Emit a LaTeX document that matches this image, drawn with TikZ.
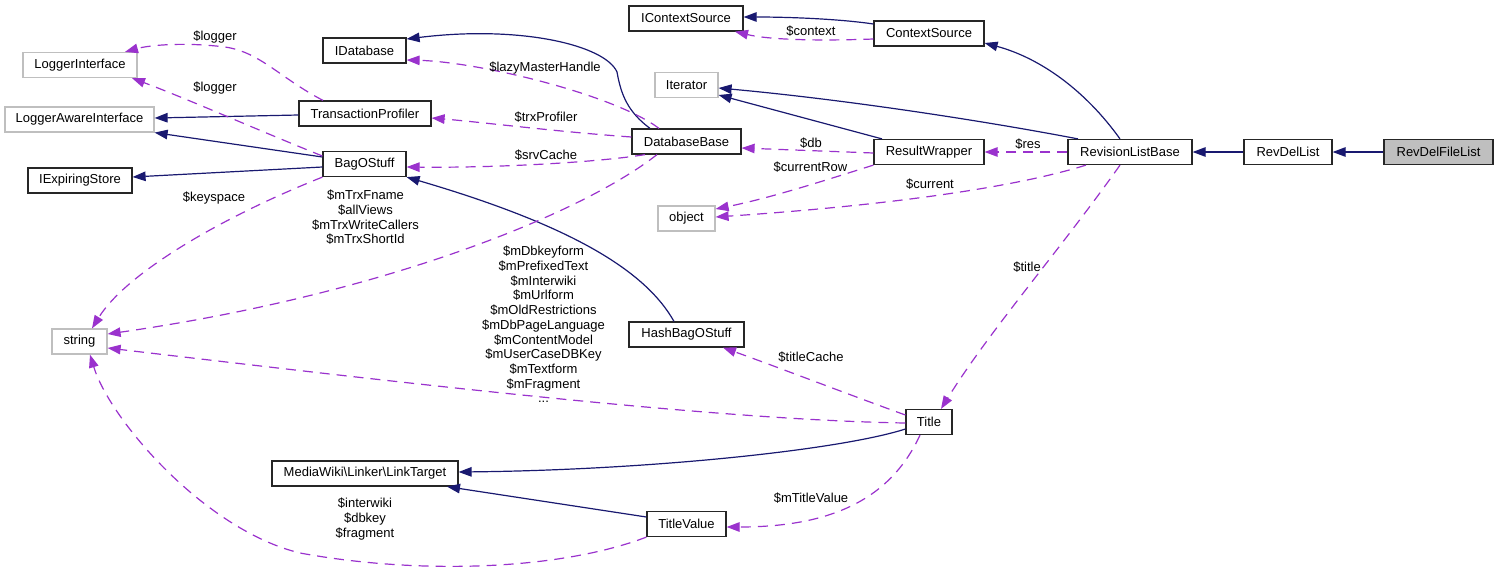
\documentclass[tikz,border=0pt]{standalone}
\usepackage{fontspec}
\setmainfont{Liberation Sans}
\usetikzlibrary{arrows.meta}
\definecolor{navyc}{HTML}{191970}
\definecolor{orch}{HTML}{9A32CD}
\definecolor{grayb}{HTML}{BFBFBF}
\begin{document}
\begin{tikzpicture}[x=1pt,y=-1pt,
  font=\fontsize{13}{14.7}\selectfont,
  cls/.style={draw=black!85, line width=1.2pt, fill=white, minimum height=25pt, inner sep=0pt, anchor=center},
  ext/.style={cls, draw=grayb},
  inh/.style={draw=navyc, line width=1.2pt, -{Triangle[length=13pt,width=9.5pt]}},
  mem/.style={draw=orch, line width=1.2pt, dash pattern=on 10pt off 7pt, -{Triangle[length=13pt,width=9.5pt]}},
  lbl/.style={inner sep=0pt, align=center}]
\useasboundingbox (0,0) rectangle (1496,576);

% nodes
\node[cls, minimum width=114pt] (ictx) at (686,18.5) {IContextSource};
\node[cls, minimum width=110pt] (ctx) at (929,33.5) {ContextSource};
\node[cls, minimum width=83pt] (idb) at (364.5,50.5) {IDatabase};
\node[ext, minimum width=114pt] (logi) at (80,65) {LoggerInterface};
\node[ext, minimum width=63pt] (iter) at (686.5,85) {Iterator};
\node[ext, minimum width=149pt] (lai) at (79.5,119.5) {LoggerAwareInterface};
\node[cls, minimum width=132pt] (trx) at (365,113.5) {TransactionProfiler};
\node[cls, minimum width=109pt] (dbb) at (686.5,141.5) {DatabaseBase};
\node[cls, minimum width=83pt] (bag) at (364.5,164) {BagOStuff};
\node[cls, minimum width=110pt] (rw) at (929,152) {ResultWrapper};
\node[cls, minimum width=124pt] (rlb) at (1130,152) {RevisionListBase};
\node[cls, minimum width=88pt] (rdl) at (1288,152) {RevDelList};
\node[cls, minimum width=109pt, fill=grayb] (rdfl) at (1438.5,152) {RevDelFileList};
\node[cls, minimum width=104pt] (iexp) at (80,180.5) {IExpiringStore};
\node[ext, minimum width=57pt] (obj) at (686.5,218.5) {object};
\node[ext, minimum width=55pt] (str) at (79.5,341.5) {string};
\node[cls, minimum width=115pt] (hbag) at (686.5,334.5) {HashBagOStuff};
\node[cls, minimum width=46pt] (title) at (929,422) {Title};
\node[cls, minimum width=186pt] (lt) at (365,473.5) {MediaWiki\textbackslash{}Linker\textbackslash{}LinkTarget};
\node[cls, minimum width=79pt] (tv) at (686.5,524) {TitleValue};

% inheritance
\draw[inh] (ctx.west |- 0,24) .. controls (840,19) and (790,17) .. (ictx.east |- 0,17);
\draw[inh] (rlb.north -| 1120,0) .. controls (1085,90) and (1040,58) .. (ctx.east |- 0,43);
\draw[inh] (rlb.north -| 1078,0) .. controls (990,122) and (850,100) .. (iter.east |- 0,88);
\draw[inh] (rw.north -| 882,0) -- (iter.east |- 0,95);
\draw[inh] (rdl.west) -- (rlb.east);
\draw[inh] (rdfl.west) -- (rdl.east);
\draw[inh] (dbb.north -| 650,0) .. controls (628,112) and (621,95) .. (617,72)
           .. controls (605,45) and (520,25) .. (idb.east |- 0,39);
\draw[inh] (trx.west |- 0,115) -- (lai.east |- 0,118);
\draw[inh] (bag.west |- 0,157) -- (lai.south east);
\draw[inh] (bag.west |- 0,167) -- (iexp.east |- 0,177);
\draw[inh] (hbag.north -| 674,0) .. controls (645,270) and (570,225) .. (bag.south east);
\draw[inh] (title.west |- 0,429) .. controls (840,450) and (650,470) .. (lt.east |- 0,472);
\draw[inh] (tv.west |- 0,517) -- (lt.south -| 447,0);

% members
\draw[mem] (trx.north -| 323,0) .. controls (280,78) and (260,52) .. (225,47)
           .. controls (185,42) and (150,45) .. (logi.north -| 125,0);
\draw[mem] (bag.west |- 0,156) .. controls (260,131) and (190,100) .. (logi.south -| 132,0);
\draw[mem] (dbb.north -| 659,0) .. controls (615,95) and (480,62) .. (idb.east |- 0,60);
\draw[mem] (dbb.west |- 0,137) .. controls (560,132) and (480,122) .. (trx.east |- 0,118);
\draw[mem] (dbb.south -| 645,0) .. controls (600,162) and (500,168) .. (bag.east |- 0,167);
\draw[mem] (dbb.south -| 657,0) .. controls (580,215) and (380,295) .. (str.east |- 0,334);
\draw[mem] (bag.south west) .. controls (215,220) and (125,275) .. (str.north -| 92,0);
\draw[mem] (rw.west |- 0,153) -- (dbb.east |- 0,148);
\draw[mem] (rw.south west) .. controls (820,182) and (770,198) .. (obj.east |- 0,209);
\draw[mem] (rlb.south -| 1086,0) .. controls (1000,192) and (850,208) .. (obj.east |- 0,217);
\draw[mem] (rlb.west) -- (rw.east);
\draw[mem] (ctx.west |- 0,39) .. controls (820,41) and (770,40) .. (ictx.south -| 735,0);
\draw[mem] (rlb.south -| 1120,0) .. controls (1060,250) and (990,330) .. (title.north -| 941,0);
\draw[mem] (title.west |- 0,415) .. controls (850,395) and (780,368) .. (hbag.south -| 723,0);
\draw[mem] (title.west |- 0,423) .. controls (720,420) and (420,385) .. (str.east |- 0,348);
\draw[mem] (title.south -| 920,0) .. controls (890,500) and (830,527) .. (tv.east |- 0,527);
\draw[mem] (tv.south west) .. controls (560,570) and (420,575) .. (300,553)
           .. controls (205,530) and (110,420) .. (str.south -| 90,0);

% labels
\node[lbl] (l1) at (215,37) {\$logger};
\node[lbl] (l2) at (215,88) {\$logger};
\node[lbl] (l3) at (545,68) {\$lazyMasterHandle};
\node[lbl] (l4) at (546,117) {\$trxProfiler};
\node[lbl] (l5) at (546,155) {\$srvCache};
\node[lbl] (l6) at (811,143) {\$db};
\node[lbl] (l7) at (810.5,167) {\$currentRow};
\node[lbl] (l8) at (930,184) {\$current};
\node[lbl] (l9) at (1028,144) {\$res};
\node[lbl] (l10) at (811,31) {\$context};
\node[lbl] (l11) at (1027,267) {\$title};
\node[lbl] (l12) at (811,357) {\$titleCache};
\node[lbl] (l13) at (811,498.5) {\$mTitleValue};
\node[lbl] (l14) at (214,198) {\$keyspace};
\node[lbl] (l15) at (365.5,217.5) {\$mTrxFname\\\$allViews\\\$mTrxWriteCallers\\\$mTrxShortId};
\node[lbl] (l16) at (543.5,324.5) {\$mDbkeyform\\\$mPrefixedText\\\$mInterwiki\\\$mUrlform\\\$mOldRestrictions\\\$mDbPageLanguage\\\$mContentModel\\\$mUserCaseDBKey\\\$mTextform\\\$mFragment\\...};
\node[lbl] (l17) at (365,519) {\$interwiki\\\$dbkey\\\$fragment};
\end{tikzpicture}
\end{document}
